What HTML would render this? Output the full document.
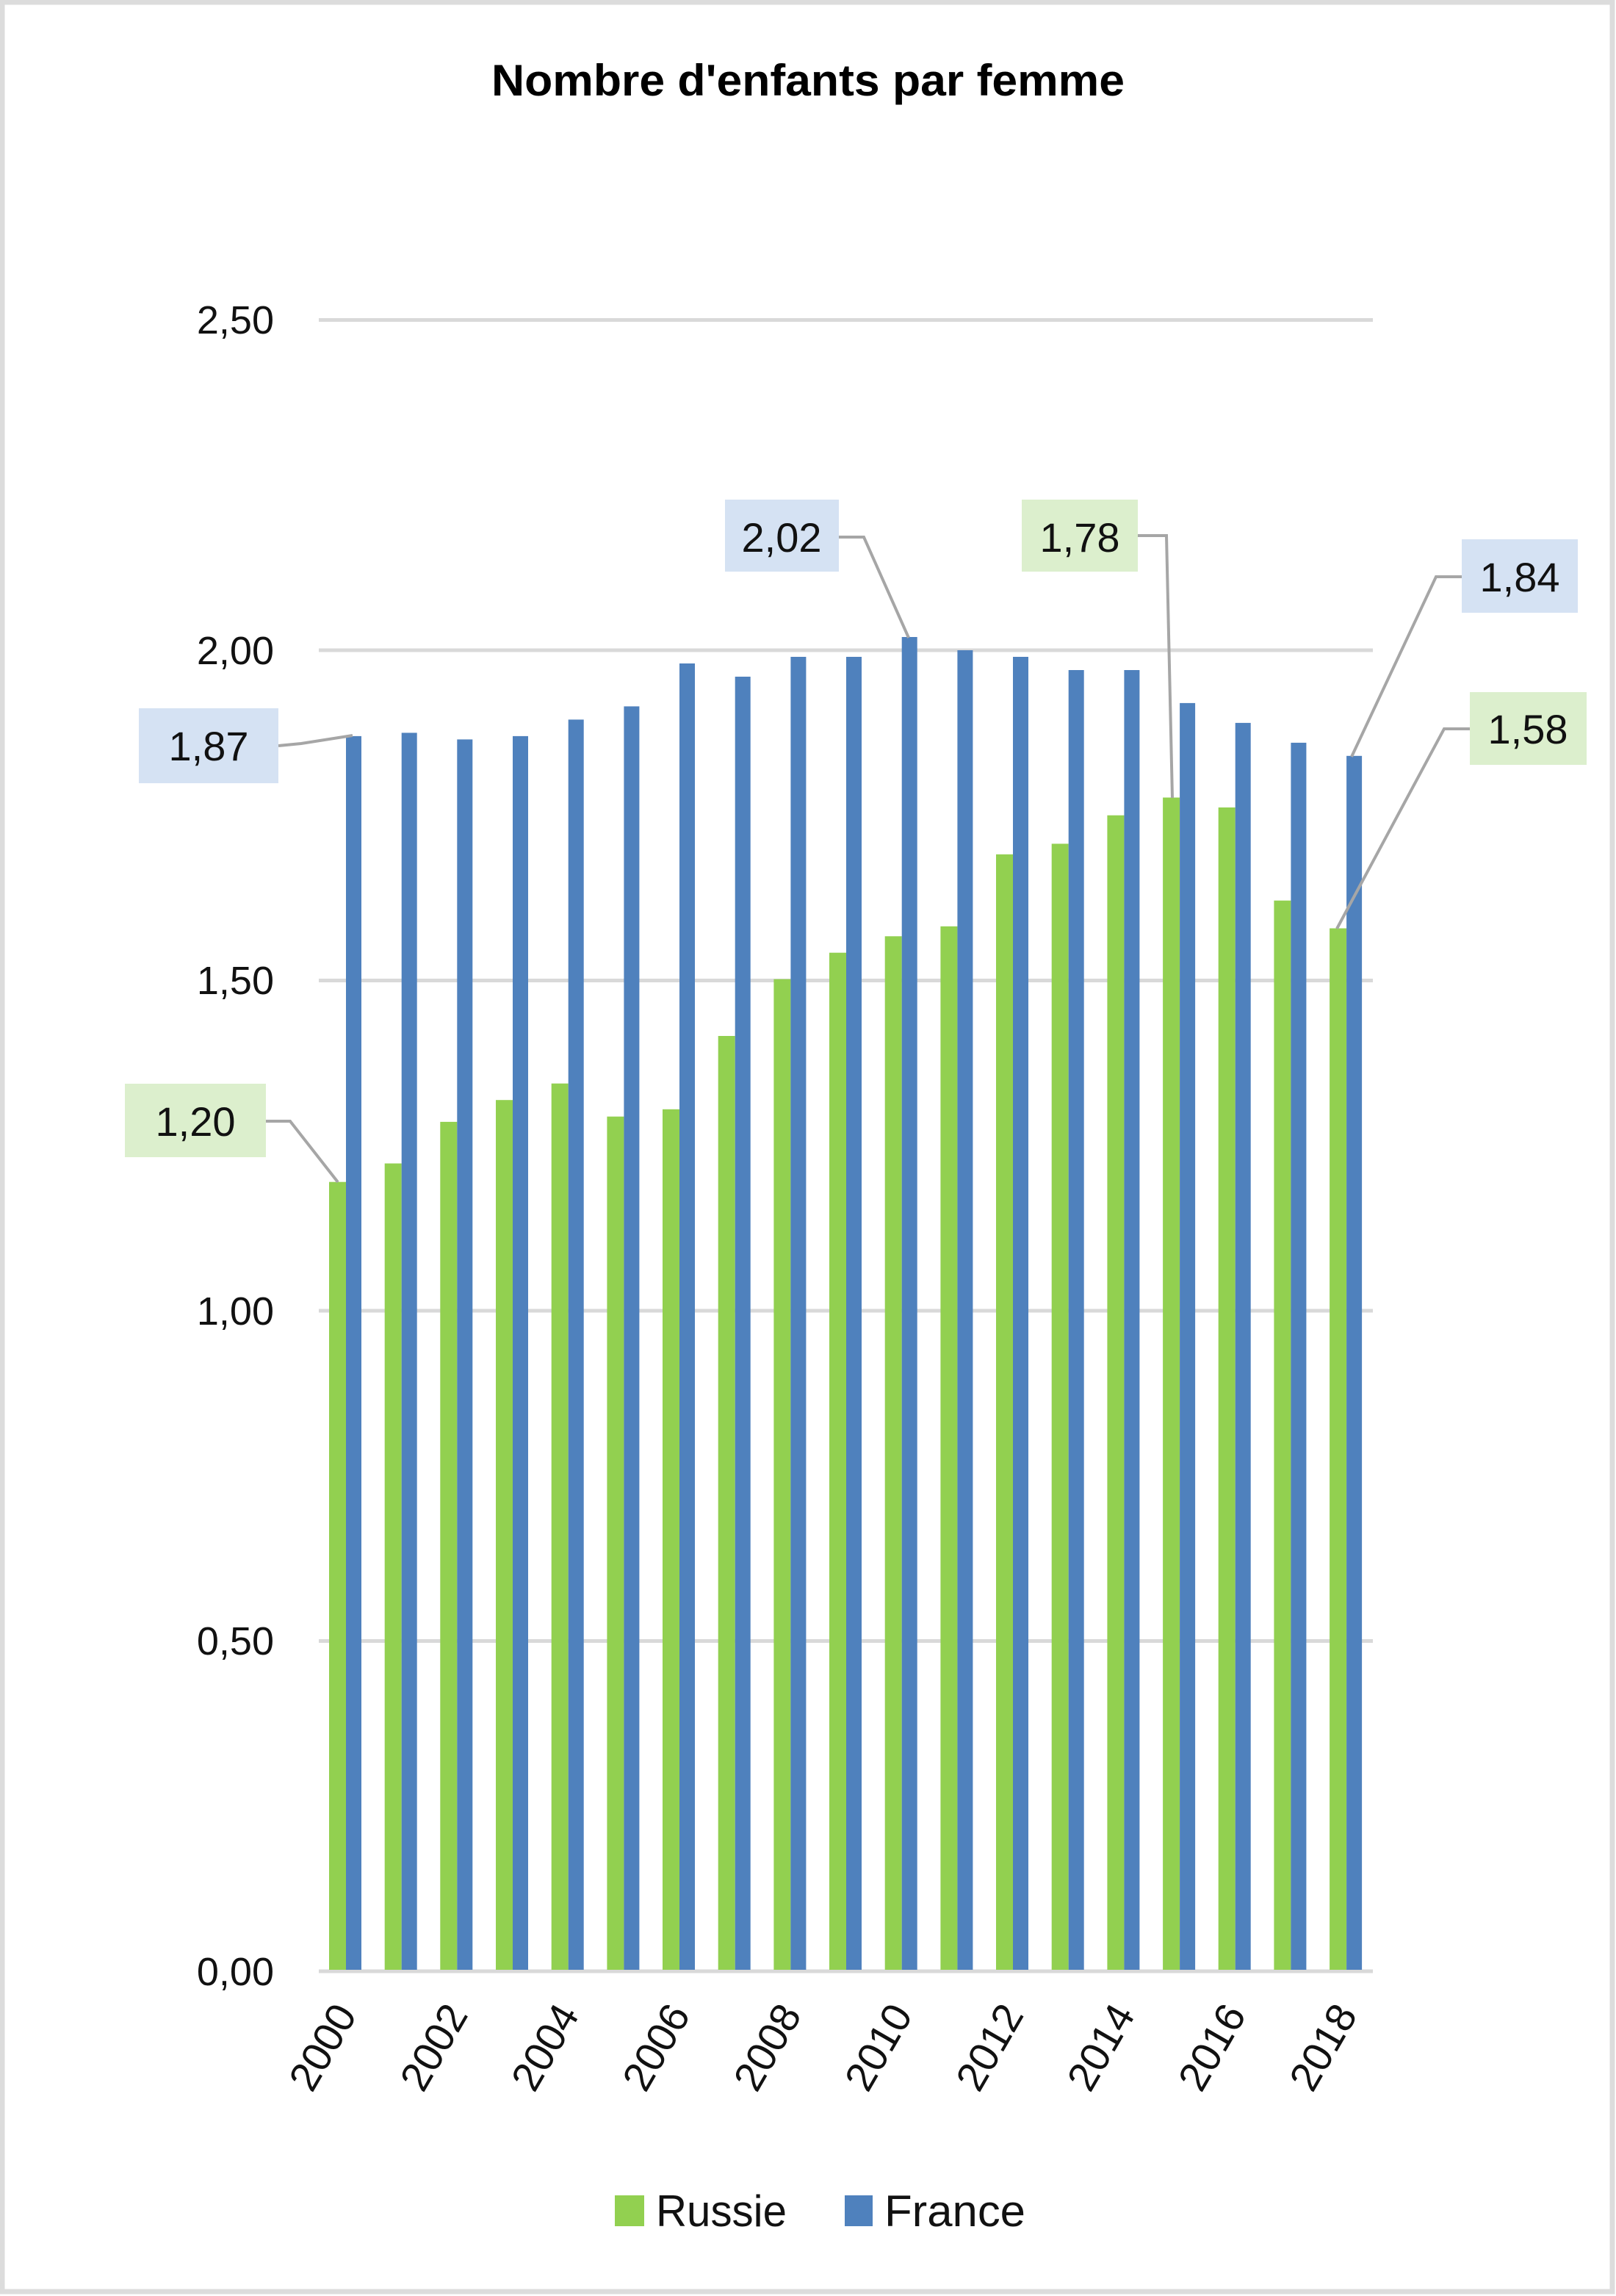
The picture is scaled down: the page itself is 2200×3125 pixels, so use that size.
<!DOCTYPE html>
<html><head><meta charset="utf-8"><style>html,body{margin:0;padding:0;background:#fff;overflow:hidden}svg{display:block}</style></head>
<body>
<svg xmlns="http://www.w3.org/2000/svg" width="2200" height="3125" viewBox="0 0 2200 3125" font-family="'Liberation Sans', 'DejaVu Sans', sans-serif">
<rect x="0" y="0" width="2200" height="3125" fill="#fff"/>
<rect x="3" y="3" width="2192" height="3116" fill="none" stroke="#dcdcdc" stroke-width="7"/>
<text x="1100" y="130" text-anchor="middle" font-size="60" font-weight="bold" textLength="862" lengthAdjust="spacingAndGlyphs">Nombre d'enfants par femme</text>
<g stroke="#d9d9d9" stroke-width="5">
<line x1="434" y1="435.5" x2="1869" y2="435.5"/>
<line x1="434" y1="885" x2="1869" y2="885"/>
<line x1="434" y1="1334.5" x2="1869" y2="1334.5"/>
<line x1="434" y1="1784" x2="1869" y2="1784"/>
<line x1="434" y1="2233.5" x2="1869" y2="2233.5"/>
<line x1="434" y1="2683" x2="1869" y2="2683"/>
</g>
<g font-size="54" text-anchor="end" fill="#111">
<text x="373" y="454">2,50</text>
<text x="373" y="904">2,00</text>
<text x="373" y="1353">1,50</text>
<text x="373" y="1803">1,00</text>
<text x="373" y="2252">0,50</text>
<text x="373" y="2702">0,00</text>
</g>
<g fill="#92d050">
<rect x="448" y="1608.7" width="23" height="1072.3"/>
<rect x="523.7" y="1583.5" width="23" height="1097.5"/>
<rect x="599.3" y="1526.9" width="23" height="1154.1"/>
<rect x="675" y="1497.2" width="23" height="1183.8"/>
<rect x="750.7" y="1474.7" width="23" height="1206.3"/>
<rect x="826.4" y="1519.7" width="23" height="1161.3"/>
<rect x="902" y="1509.8" width="23" height="1171.2"/>
<rect x="977.7" y="1410" width="23" height="1271"/>
<rect x="1053.4" y="1332.7" width="23" height="1348.3"/>
<rect x="1129" y="1296.7" width="23" height="1384.3"/>
<rect x="1204.7" y="1274.3" width="23" height="1406.7"/>
<rect x="1280.4" y="1260.8" width="23" height="1420.2"/>
<rect x="1356" y="1162.8" width="23" height="1518.2"/>
<rect x="1431.7" y="1148.4" width="23" height="1532.6"/>
<rect x="1507.4" y="1109.7" width="23" height="1571.3"/>
<rect x="1583.1" y="1085.5" width="23" height="1595.5"/>
<rect x="1658.7" y="1099" width="23" height="1582"/>
<rect x="1734.4" y="1225.7" width="23" height="1455.3"/>
<rect x="1810.1" y="1263.5" width="23" height="1417.5"/>
</g>
<g fill="#4f81bd">
<rect x="471" y="1001.9" width="21" height="1679.1"/>
<rect x="546.7" y="997.4" width="21" height="1683.6"/>
<rect x="622.3" y="1006.4" width="21" height="1674.6"/>
<rect x="698" y="1001.9" width="21" height="1679.1"/>
<rect x="773.7" y="979.4" width="21" height="1701.6"/>
<rect x="849.4" y="961.4" width="21" height="1719.6"/>
<rect x="925" y="903" width="21" height="1778"/>
<rect x="1000.7" y="921" width="21" height="1760"/>
<rect x="1076.4" y="894" width="21" height="1787"/>
<rect x="1152" y="894" width="21" height="1787"/>
<rect x="1227.7" y="867" width="21" height="1814"/>
<rect x="1303.4" y="885" width="21" height="1796"/>
<rect x="1379" y="894" width="21" height="1787"/>
<rect x="1454.7" y="912" width="21" height="1769"/>
<rect x="1530.4" y="912" width="21" height="1769"/>
<rect x="1606.1" y="956.9" width="21" height="1724.1"/>
<rect x="1681.7" y="983.9" width="21" height="1697.1"/>
<rect x="1757.4" y="1010.9" width="21" height="1670.1"/>
<rect x="1833.1" y="1028.8" width="21" height="1652.2"/>
</g>
<g font-size="56" fill="#111" text-anchor="end">
<text transform="translate(487,2742) rotate(-60)">2000</text>
<text transform="translate(638.3,2742) rotate(-60)">2002</text>
<text transform="translate(789.7,2742) rotate(-60)">2004</text>
<text transform="translate(941,2742) rotate(-60)">2006</text>
<text transform="translate(1092.4,2742) rotate(-60)">2008</text>
<text transform="translate(1243.7,2742) rotate(-60)">2010</text>
<text transform="translate(1395,2742) rotate(-60)">2012</text>
<text transform="translate(1546.4,2742) rotate(-60)">2014</text>
<text transform="translate(1697.7,2742) rotate(-60)">2016</text>
<text transform="translate(1849.1,2742) rotate(-60)">2018</text>
</g>
<g stroke="#a6a6a6" stroke-width="4" fill="none">
<polyline points="379,1015 410,1012 480,1001"/>
<polyline points="1142,731 1176,731 1237,868"/>
<polyline points="1549,729 1588,729 1596,1086"/>
<polyline points="1990,785 1955,785 1840,1030"/>
<polyline points="2001,992 1966,992 1820,1264"/>
<polyline points="362,1526 395,1526 460,1609"/>
</g>
<g font-size="56" text-anchor="middle" fill="#111">
<rect x="189" y="964" width="190" height="102" fill="#d5e2f3"/><text x="284" y="1035">1,87</text>
<rect x="987" y="680" width="155" height="98" fill="#d5e2f3"/><text x="1064" y="751">2,02</text>
<rect x="1391" y="680" width="158" height="98" fill="#dcefcd"/><text x="1470" y="751">1,78</text>
<rect x="1990" y="734" width="158" height="100" fill="#d5e2f3"/><text x="2069" y="805">1,84</text>
<rect x="2001" y="942" width="159" height="99" fill="#dcefcd"/><text x="2080" y="1012">1,58</text>
<rect x="170" y="1475" width="192" height="100" fill="#dcefcd"/><text x="266" y="1546">1,20</text>
</g>
<rect x="837" y="2988" width="40" height="42" fill="#92d050"/>
<text x="893" y="3030" font-size="60" fill="#111" textLength="178" lengthAdjust="spacingAndGlyphs">Russie</text>
<rect x="1150" y="2988" width="38" height="42" fill="#4f81bd"/>
<text x="1204" y="3030" font-size="60" fill="#111" textLength="192" lengthAdjust="spacingAndGlyphs">France</text>
</svg>
</body></html>
